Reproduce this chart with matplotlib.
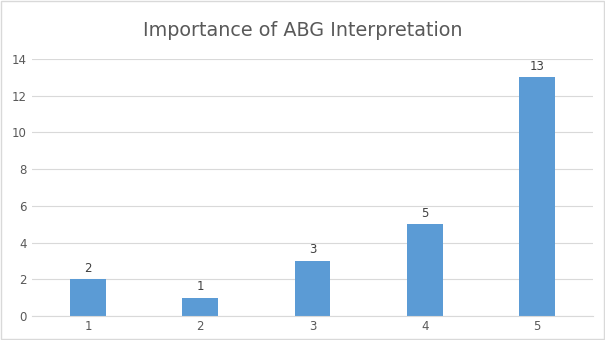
import matplotlib.pyplot as plt
from matplotlib.patches import Rectangle

categories = ["1", "2", "3", "4", "5"]
counts = [2, 1, 3, 5, 13]
yticks = [0, 2, 4, 6, 8, 10, 12, 14]

bar_color = "#5B9BD5"
text_color = "#595959"
grid_color = "#D9D9D9"

fig = plt.figure(figsize=(6.05, 3.4), dpi=100)
ax = fig.add_axes([0.053, 0.0706, 0.927, 0.756])

x = list(range(1, len(categories) + 1))
bars = ax.bar(x, counts, width=0.32, color=bar_color, zorder=3)
for xi, v in zip(x, counts):
    ax.text(xi, v + 0.25, str(v), ha="center", va="bottom",
            fontsize=8.5, color="#404040")

ax.set_xlim(0.5, len(categories) + 0.5)
ax.set_ylim(0, 14)
ax.set_xticks(x)
ax.set_xticklabels(categories)
ax.set_yticks(yticks)
ax.tick_params(axis="both", length=0, labelsize=8.5, labelcolor=text_color)
ax.tick_params(axis="x", pad=3)
ax.tick_params(axis="y", pad=4)
ax.grid(axis="y", color=grid_color, linewidth=0.8, zorder=0)
for side in ["top", "right", "left"]:
    ax.spines[side].set_visible(False)
ax.spines["bottom"].set_color(grid_color)
ax.spines["bottom"].set_zorder(4)

fig.text(0.5, 0.91, "Importance of ABG Interpretation", ha="center",
         va="center", fontsize=13.8, color=text_color)

fig.patches.append(Rectangle((0.001, 0.002), 0.997, 0.995, transform=fig.transFigure,
                             fill=False, edgecolor=grid_color, linewidth=1))

fig.savefig("out.png", dpi=100)
